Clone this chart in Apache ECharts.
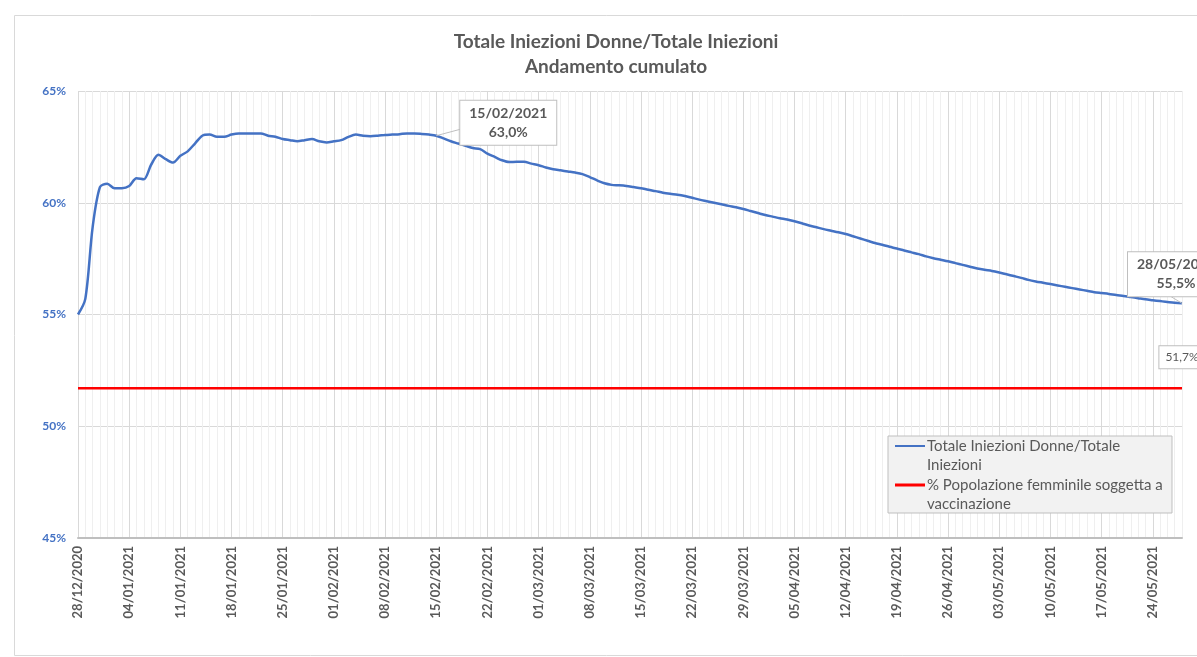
<!DOCTYPE html>
<html>
<head>
<meta charset="utf-8">
<script src="https://cdn.jsdelivr.net/npm/echarts@6/dist/echarts.min.js"></script>
<style>
html, body { margin: 0; padding: 0; background: #fff; }
#chart { width: 1197px; height: 657px; }
</style>
</head>
<body>
<div id="chart"></div>
<script>
// categorie: un giorno per punto, dal 28/12/2020 al 28/05/2021
var dates = [];
function pad(n) { return n < 10 ? '0' + n : '' + n; }
for (var i = 0; i < 152; i++) {
    var d = new Date(2020, 11, 28 + i);
    dates.push(pad(d.getDate()) + '/' + pad(d.getMonth() + 1) + '/' + d.getFullYear());
}

// Totale Iniezioni Donne/Totale Iniezioni (%)
var donne = [
    55.0, 55.7, 58.9, 60.7, 60.85, 60.65, 60.65, 60.75, 61.1, 61.05,
    61.7, 62.15, 61.95, 61.8, 62.1, 62.3, 62.65, 63.0, 63.05, 62.95,
    62.95, 63.05, 63.1, 63.1, 63.1, 63.1, 63.0, 62.95, 62.85, 62.8,
    62.75, 62.8, 62.85, 62.75, 62.7, 62.75, 62.8, 62.95, 63.05, 63.0,
    62.98, 63.0, 63.03, 63.05, 63.07, 63.1, 63.1, 63.08, 63.05, 63.0,
    62.88, 62.75, 62.65, 62.55, 62.45, 62.4, 62.2, 62.05, 61.9, 61.82,
    61.83, 61.83, 61.75, 61.68, 61.58, 61.5, 61.45, 61.4, 61.35, 61.28,
    61.15, 61.0, 60.87, 60.8, 60.78, 60.75, 60.7, 60.65, 60.58, 60.52,
    60.45, 60.4, 60.36, 60.3, 60.22, 60.14, 60.07, 60.0, 59.93, 59.86,
    59.8, 59.72, 59.63, 59.54, 59.45, 59.38, 59.31, 59.25, 59.17, 59.08,
    58.98, 58.9, 58.82, 58.75, 58.68, 58.6, 58.5, 58.4, 58.3, 58.2,
    58.12, 58.03, 57.95, 57.86, 57.78, 57.7, 57.6, 57.52, 57.45, 57.38,
    57.3, 57.22, 57.14, 57.06, 57.0, 56.95, 56.88, 56.8, 56.72, 56.64,
    56.55, 56.48, 56.42, 56.36, 56.3, 56.24, 56.18, 56.12, 56.06, 56.0,
    55.96, 55.92, 55.87, 55.83, 55.78, 55.73, 55.68, 55.64, 55.6, 55.56,
    55.53, 55.5
];

// % Popolazione femminile soggetta a vaccinazione
var quotaFemminile = 51.7;
var popolazione = dates.map(function () { return quotaFemminile; });

var seriesNames = ['Totale Iniezioni Donne/Totale Iniezioni', '% Popolazione femminile soggetta a vaccinazione'];
var legendLines = ['Totale Iniezioni Donne/Totale\nIniezioni', '% Popolazione femminile soggetta a\nvaccinazione'];
var colori = ['#4472c4', '#ff0000'];

var picco = 49;              // 15/02/2021
var ultimo = dates.length - 1;

function pct(v) { return v.toFixed(1).replace('.', ',') + '%'; }

var boxLabel = {
    show: true,
    position: 'inside',
    backgroundColor: '#ffffff',
    borderColor: '#bfbfbf',
    borderWidth: 1,
    padding: [3, 9, 3, 9],
    color: '#595959',
    fontFamily: 'Lato',
    fontWeight: 'bold',
    fontSize: 14,
    lineHeight: 19,
    align: 'center'
};

// legenda disegnata a mano: in Excel il simbolo sta sulla prima riga del testo
var legendaX = 888, legendaY = 436, rigaH = 19.5;
var legenda = [{
    type: 'rect',
    z: 100,
    shape: {x: legendaX, y: legendaY, width: 284, height: 77},
    style: {fill: '#f2f2f2', stroke: '#bfbfbf', lineWidth: 1},
    silent: true
}];
legendLines.forEach(function (txt, k) {
    var top = legendaY + k * 2 * rigaH;
    legenda.push({
        type: 'line',
        z: 101,
        shape: {x1: legendaX + 7, y1: top + 10, x2: legendaX + 37, y2: top + 10},
        style: {stroke: colori[k], lineWidth: k === 0 ? 2 : 3},
        silent: true
    });
    legenda.push({
        type: 'text',
        z: 101,
        x: legendaX + 39,
        y: top,
        style: {text: txt, font: '15px Lato', fill: '#595959', lineHeight: rigaH, verticalAlign: 'top'},
        silent: true
    });
});

var chart = echarts.init(document.getElementById('chart'), null, {renderer: 'canvas'});

chart.setOption({
    animation: false,
    textStyle: {fontFamily: 'Lato'},
    title: {
        text: 'Totale Iniezioni Donne/Totale Iniezioni\nAndamento cumulato',
        left: 611,
        top: 24,
        textAlign: 'center',
        textStyle: {fontSize: 19, fontWeight: 'bold', color: '#595959', lineHeight: 25, fontFamily: 'Lato'}
    },
    grid: {left: 78, right: 15, top: 91, bottom: 119, containLabel: false},
    xAxis: [{
        type: 'category',
        data: dates,
        boundaryGap: false,
        axisLine: {lineStyle: {color: '#bfbfbf', width: 2}},
        axisTick: {show: false},
        axisLabel: {
            interval: function (idx) { return idx % 7 === 0; },
            rotate: 90,
            margin: 8,
            fontSize: 13,
            fontWeight: 'bold',
            color: '#595959'
        },
        splitLine: {show: true, interval: 0, lineStyle: {color: '#efefef', width: 1}}
    }, {
        type: 'category',
        data: dates,
        boundaryGap: false,
        position: 'top',
        axisLine: {show: false},
        axisTick: {show: false},
        axisLabel: {show: false},
        splitLine: {show: true, interval: 6, lineStyle: {color: '#d9d9d9', width: 1}}
    }],
    yAxis: {
        type: 'value',
        min: 45,
        max: 65,
        interval: 5,
        axisLine: {show: false},
        axisTick: {show: false},
        axisLabel: {
            formatter: '{value}%',
            color: '#4472c4',
            fontSize: 12,
            fontWeight: 'bold',
            margin: 12
        },
        splitLine: {lineStyle: {color: '#d9d9d9', width: 1}}
    },
    series: [{
        name: seriesNames[0],
        type: 'line',
        data: donne,
        smooth: 0.3,
        showSymbol: false,
        lineStyle: {color: colori[0], width: 2.5},
        itemStyle: {color: colori[0]},
        z: 3,
        markPoint: {
            symbol: 'circle',
            symbolSize: 1,
            itemStyle: {color: 'rgba(0,0,0,0)'},
            silent: true,
            data: [{
                coord: [picco, donne[picco]],
                label: Object.assign({}, boxLabel, {
                    formatter: dates[picco] + '\n' + pct(donne[picco]),
                    offset: [72, -13]
                })
            }, {
                coord: [ultimo, donne[ultimo]],
                label: Object.assign({}, boxLabel, {
                    formatter: dates[ultimo] + '\n' + pct(donne[ultimo]),
                    offset: [-6, -29]
                })
            }]
        },
        markLine: {
            silent: true,
            symbol: 'none',
            label: {show: false},
            lineStyle: {color: '#bfbfbf', width: 1, type: 'solid'},
            data: [
                [{coord: [picco, donne[picco]]}, {coord: [picco + 4, 63.35]}],
                [{coord: [ultimo, donne[ultimo]]}, {coord: [ultimo - 2, 55.9]}]
            ]
        }
    }, {
        name: seriesNames[1],
        type: 'line',
        data: popolazione,
        showSymbol: false,
        lineStyle: {color: colori[1], width: 2.5},
        itemStyle: {color: colori[1]},
        z: 2,
        markPoint: {
            symbol: 'circle',
            symbolSize: 1,
            itemStyle: {color: 'rgba(0,0,0,0)'},
            silent: true,
            data: [{
                coord: [ultimo, quotaFemminile],
                label: Object.assign({}, boxLabel, {
                    formatter: pct(quotaFemminile),
                    fontWeight: 'normal',
                    fontSize: 12,
                    lineHeight: 16,
                    padding: [3, 6],
                    offset: [0, -31]
                })
            }]
        }
    }],
    graphic: [{
        type: 'rect',
        left: 12,
        top: 13,
        shape: {width: 1200, height: 640},
        style: {fill: 'none', stroke: '#d9d9d9', lineWidth: 1},
        silent: true
    }].concat(legenda)
});
</script>
</body>
</html>
